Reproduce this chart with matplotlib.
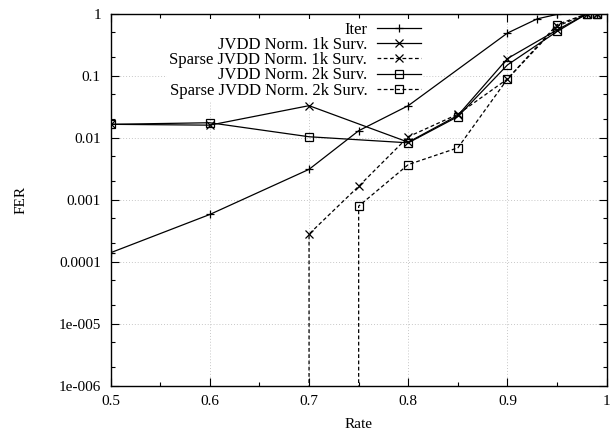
import matplotlib
matplotlib.use("Agg")
import matplotlib.pyplot as plt
from matplotlib.ticker import LogLocator, MultipleLocator, FixedLocator, FixedFormatter, NullFormatter

plt.rcParams['font.family'] = ['Liberation Serif', 'DejaVu Serif']

# data (FER 0 = no errors seen, drops to the bottom edge)
iter_rate = [0.5, 0.6, 0.7, 0.75, 0.8, 0.9, 0.93, 0.95, 0.98, 0.99]
iter_fer = [1.4e-4, 5.8e-4, 3.1e-3, 0.013, 0.033, 0.49, 0.83, 0.98, 1.0, 1.0]

jvdd1k_rate = [0.5, 0.6, 0.7, 0.8, 0.85, 0.9, 0.95, 0.98, 0.99]
jvdd1k_fer = [0.0165, 0.016, 0.033, 0.0085, 0.023, 0.19, 0.55, 1.0, 1.0]

sparse1k_rate = [0.7, 0.7, 0.75, 0.8, 0.85, 0.9, 0.95, 0.98, 0.99]
sparse1k_fer = [0.0, 2.8e-4, 1.65e-3, 0.0104, 0.024, 0.089, 0.63, 1.0, 1.0]

jvdd2k_rate = [0.5, 0.6, 0.7, 0.8, 0.85, 0.9, 0.95, 0.98, 0.99]
jvdd2k_fer = [0.0165, 0.0175, 0.0104, 0.0083, 0.022, 0.15, 0.52, 1.0, 1.0]

sparse2k_rate = [0.75, 0.75, 0.8, 0.85, 0.9, 0.95, 0.98, 0.99]
sparse2k_fer = [0.0, 7.9e-4, 3.7e-3, 6.9e-3, 0.089, 0.67, 1.0, 1.0]

xtick_vals = [0.5, 0.6, 0.7, 0.8, 0.9, 1.0]
xtick_labels = ['0.5', '0.6', '0.7', '0.8', '0.9', '1']
ytick_vals = [1, 0.1, 0.01, 0.001, 0.0001, 1e-5, 1e-6]
ytick_labels = ['1', '0.1', '0.01', '0.001', '0.0001', '1e-005', '1e-006']

fig = plt.figure(figsize=(6.11, 4.32), dpi=100)
ax = fig.add_axes([0.181, 0.107, 0.812, 0.861])
ax.set_yscale('log', nonpositive='clip')

dash = (0, (3, 2))
kw = dict(color='black', lw=0.9, markersize=5.5, markeredgewidth=0.9, mfc='none')
ax.plot(iter_rate, iter_fer, marker='+', ls='-', label='Iter', **kw)
ax.plot(jvdd1k_rate, jvdd1k_fer, marker='x', ls='-', label='JVDD Norm. 1k Surv.', **kw)
ax.plot(sparse1k_rate, sparse1k_fer, marker='x', ls=dash, markevery=list(range(1, len(sparse1k_rate))),
        label='Sparse JVDD Norm. 1k Surv.', **kw)
ax.plot(jvdd2k_rate, jvdd2k_fer, marker='s', ls='-', label='JVDD Norm. 2k Surv.', **kw)
ax.plot(sparse2k_rate, sparse2k_fer, marker='s', ls=dash, markevery=list(range(1, len(sparse2k_rate))),
        label='Sparse JVDD Norm. 2k Surv.', **kw)

ax.set_xlim(0.5, 1.0)
ax.set_ylim(1e-6, 1)
ax.xaxis.set_major_locator(FixedLocator(xtick_vals))
ax.xaxis.set_major_formatter(FixedFormatter(xtick_labels))
ax.xaxis.set_minor_locator(MultipleLocator(0.05))
ax.yaxis.set_major_locator(FixedLocator(ytick_vals))
ax.yaxis.set_major_formatter(FixedFormatter(ytick_labels))
ax.yaxis.set_minor_locator(LogLocator(base=10, subs=(2, 5)))
ax.yaxis.set_minor_formatter(NullFormatter())
ax.tick_params(which='both', direction='in', top=True, right=True, labelsize=11, width=0.8)
ax.tick_params(which='major', length=6, pad=7)
ax.tick_params(which='minor', length=3)
ax.grid(True, which='major', color='#c8c8c8', ls=(0, (1, 2)), lw=0.7)
ax.set_axisbelow(True)
for s in ax.spines.values():
    s.set_linewidth(1.0)

ax.set_xlabel('Rate', fontsize=11, labelpad=7)
ax.set_ylabel('FER', fontsize=11, labelpad=22)

leg = ax.legend(loc='upper right', bbox_to_anchor=(0.63, 0.985), markerfirst=False,
                fontsize=12, handlelength=2.6, handletextpad=0.6, labelspacing=-0.05,
                borderpad=0.15, borderaxespad=0, frameon=True, fancybox=False)
leg.get_frame().set_edgecolor('none')
leg.get_frame().set_facecolor('white')
leg.get_frame().set_alpha(1)
leg.set_zorder(1.5)
for t in leg.get_texts():
    t.set_ha('right')
leg._legend_box.align = 'right'

fig.savefig('out.png', dpi=100)
